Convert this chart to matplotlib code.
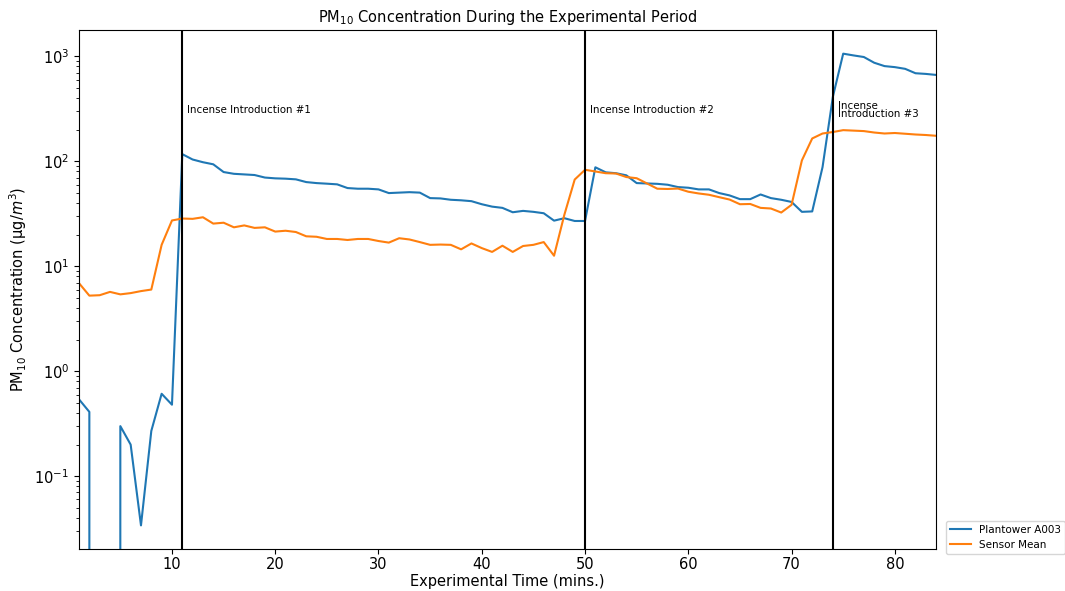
import numpy as np
import matplotlib
matplotlib.use('Agg')
import matplotlib.pyplot as plt

# Minutes of the experiment
minutes = np.arange(1, 85)

# Plantower A003 readings (0 = no reading above zero)
plantower = [0.54, 0.41, 0, 0, 0.30, 0.20, 0.034, 0.27, 0.61, 0.48,
             117, 104, 98, 93.6, 79, 76, 75, 74, 70, 68.8,
             68.3, 67.3, 63.4, 62, 61.2, 60.3, 55.6, 54.8, 54.8, 54,
             49.8, 50.3, 50.8, 50.3, 44.6, 44.3, 43, 42.5, 41.7, 39,
             37, 36, 32.7, 33.7, 33, 32, 27.2, 28.7, 27, 27,
             87.7, 78.5, 77, 73.5, 62, 61.5, 61, 59.8, 56.8, 56,
             54, 54, 49.8, 47.3, 43.6, 43.6, 48.3, 44.6, 43, 41,
             33, 33.3, 88, 412, 1060, 1020, 985, 869, 807, 789,
             760, 690, 680, 665]

# Mean of the low-cost sensors
sensor_mean = [6.9, 5.25, 5.3, 5.7, 5.4, 5.55, 5.8, 6.0, 16, 27.3,
               28.5, 28.3, 29.3, 25.5, 26, 23.5, 24.5, 23.2, 23.5, 21.4,
               21.8, 21.2, 19.3, 19.1, 18.2, 18.2, 17.8, 18.2, 18.2, 17.4,
               16.8, 18.5, 18, 17, 16, 16.1, 16, 14.5, 16.5, 14.9,
               13.7, 15.7, 13.7, 15.6, 16, 17, 12.6, 31, 67, 83,
               80, 77, 76.5, 70.8, 69, 61.5, 54.8, 54.5, 55, 51.3,
               49.4, 48, 45.5, 43.2, 39, 39.2, 36, 35.5, 32.5, 38.5,
               102, 165, 184, 190, 198, 196, 194, 188, 184, 186,
               183, 180, 178, 175]

# Incense introductions
incense_times = [11, 50, 74]
incense_labels = ['Incense Introduction #1', 'Incense Introduction #2',
                  'Incense\nIntroduction #3']

fig = plt.figure(figsize=(10.65, 5.91), dpi=100)
ax = fig.add_axes([0.0742, 0.0711, 0.8048, 0.878])

ax.plot(minutes, plantower, label='Plantower A003')
ax.plot(minutes, sensor_mean, label='Sensor Mean')
ax.set_yscale('log')
ax.set_xlim(1, 84)

for t, lab in zip(incense_times, incense_labels):
    ax.axvline(t, color='black', linewidth=1.5)
    ax.text(t + 0.45, 310, lab, fontsize=7.4, va='center', ha='left',
            linespacing=0.75)

ax.set_title('PM$_{10}$ Concentration During the Experimental Period', fontsize=10.5)
ax.set_xlabel('Experimental Time (mins.)', fontsize=10.5, labelpad=1.5)
ax.set_ylabel('PM$_{10}$ Concentration (\u03bcg/$m^3$)', fontsize=10.5)
ax.tick_params(labelsize=10.5)
ax.tick_params(axis='x', pad=2.5)

ax.legend(loc='lower left', bbox_to_anchor=(1.005, -0.02), fontsize=7.5)

fig.savefig('out.png', dpi=100)
